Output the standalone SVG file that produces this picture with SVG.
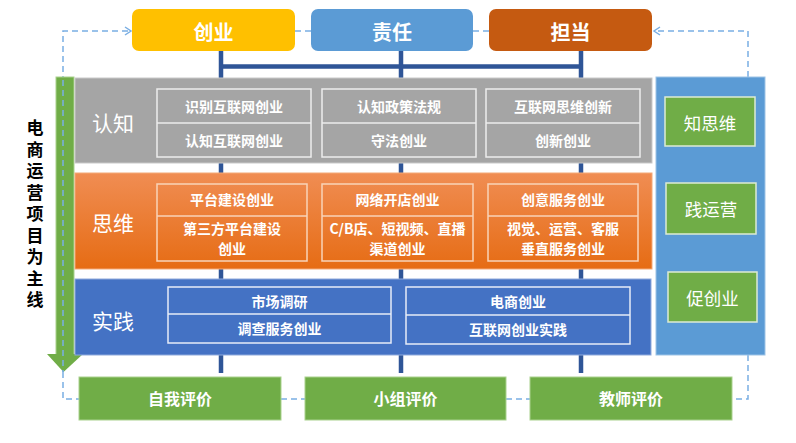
<svg xmlns="http://www.w3.org/2000/svg" width="796" height="443" viewBox="0 0 796 443">
<defs>
<style>
text{font-family:"Noto Sans CJK SC","Noto Sans",sans-serif;fill:#fff;text-anchor:middle;dominant-baseline:central}
.title{font-size:20px;font-weight:bold}
.cell{font-size:14px;font-weight:bold}
.plabel{font-size:21px}
.rlabel{font-size:17.5px}
.blabel{font-size:16px;font-weight:bold}
.vt{font-size:17px;font-weight:bold;fill:#000;writing-mode:vertical-rl;letter-spacing:4.5px}
.dash{fill:none;stroke:#7AAEE3;stroke-width:1.5;stroke-dasharray:6 4}
.cellbox{fill:none;stroke-width:1.5}
.grn{fill:#70AD47}
</style>
<linearGradient id="og" x1="0" y1="0" x2="0" y2="1">
<stop offset="0" stop-color="#F08D53"/>
<stop offset="1" stop-color="#E66C14"/>
</linearGradient>
<marker id="ah" markerWidth="10" markerHeight="10" refX="8" refY="5" orient="auto" markerUnits="userSpaceOnUse">
<path d="M2,1 L8,5 L2,9" fill="none" stroke="#7AAEE3" stroke-width="1.5"/>
</marker>
</defs>

<g id="connectors">
<path class="dash" d="M63,372 V31 H131" marker-end="url(#ah)"/>
<path class="dash" d="M748,77 V31 H654" marker-end="url(#ah)"/>
<path class="dash" d="M63,372 V399 H79"/>
<path class="dash" d="M748,355 V399 H732"/>
<path class="dash" d="M295,31 H311 M473,31 H489"/>
<path class="dash" d="M281,399 H305 M506,399 H530"/>
<g stroke="#2F5597" stroke-width="4.5" fill="none">
<path d="M221,51 V373 M401,51 V373 M581,51 V373"/>
<path d="M221,66.5 H581"/>
</g>
</g>

<g id="top-chuangye">
<rect x="132" y="9" width="163" height="42" rx="7" fill="#FFC000"/>
<text class="title" x="213.5" y="31">创业</text>
</g>
<g id="top-zeren">
<rect x="311" y="9" width="162" height="42" rx="7" fill="#5B9BD5"/>
<text class="title" x="392" y="31">责任</text>
</g>
<g id="top-dandang">
<rect x="489" y="9" width="163" height="42" rx="7" fill="#C55A11"/>
<text class="title" x="570.5" y="31">担当</text>
</g>

<g id="main-line">
<rect x="56" y="77" width="18" height="278" fill="#70AD47" stroke="#A9D18E" stroke-width="1"/>
<path d="M47,354 H83 L63.5,372 Z" fill="#70AD47"/>
<path class="dash" d="M63,80 V372" stroke="#9DC3E6"/>
<text class="vt" x="35" y="216">电商运营项目为主线</text>
</g>

<g id="panel-renzhi">
<rect x="75" y="78" width="577" height="85" fill="#A5A5A5" stroke="#C9C9C9" stroke-width="1"/>
<text class="plabel" x="113" y="122">认知</text>
<g class="cellbox" stroke="#EDEDED">
<rect x="157" y="89" width="154" height="68"/><path d="M157,123 H311"/>
<rect x="322" y="89" width="154" height="68"/><path d="M322,123 H476"/>
<rect x="486" y="89" width="154" height="68"/><path d="M486,123 H640"/>
</g>
<text class="cell" x="234" y="106">识别互联网创业</text>
<text class="cell" x="234" y="140">认知互联网创业</text>
<text class="cell" x="399" y="106">认知政策法规</text>
<text class="cell" x="399" y="140">守法创业</text>
<text class="cell" x="563" y="106">互联网思维创新</text>
<text class="cell" x="563" y="140">创新创业</text>
</g>

<g id="panel-siwei">
<rect x="75" y="173" width="577" height="96" fill="url(#og)" stroke="#F4A979" stroke-width="1"/>
<text class="plabel" x="113" y="222">思维</text>
<g class="cellbox" stroke="#F9D3B8">
<rect x="157" y="184" width="150" height="77"/><path d="M157,216 H307"/>
<rect x="322" y="184" width="151" height="77"/><path d="M322,216 H473"/>
<rect x="488" y="184" width="150" height="77"/><path d="M488,216 H638"/>
</g>
<text class="cell" x="232" y="199">平台建设创业</text>
<text class="cell"><tspan x="232" y="227.5">第三方平台建设</tspan><tspan x="232" y="248">创业</tspan></text>
<text class="cell" x="397.5" y="199">网络开店创业</text>
<text class="cell"><tspan x="397.5" y="227.5">C/B店、短视频、直播</tspan><tspan x="397.5" y="248">渠道创业</tspan></text>
<text class="cell" x="563" y="199">创意服务创业</text>
<text class="cell"><tspan x="563" y="227.5">视觉、运营、客服</tspan><tspan x="563" y="248">垂直服务创业</tspan></text>
</g>

<g id="panel-shijian">
<rect x="75" y="279" width="576" height="76" fill="#4472C4" stroke="#8FAADC" stroke-width="1"/>
<text class="plabel" x="113" y="320">实践</text>
<g class="cellbox" stroke="#E6ECF7">
<rect x="168" y="287" width="223" height="56"/><path d="M168,314 H391"/>
<rect x="406" y="287" width="224" height="57"/><path d="M406,315 H630"/>
</g>
<text class="cell" x="279.5" y="301">市场调研</text>
<text class="cell" x="279.5" y="328">调查服务创业</text>
<text class="cell" x="518" y="301">电商创业</text>
<text class="cell" x="518" y="329">互联网创业实践</text>
</g>

<g id="side-panel">
<rect x="656" y="77" width="109" height="278" fill="#5B9BD5" stroke="#9DC3E6" stroke-width="1"/>
</g>
<g id="side-zhisiwei">
<rect class="grn" x="665" y="97" width="90" height="49" stroke="#DDEBD4" stroke-width="1.5"/>
<text class="rlabel" x="710" y="122">知思维</text>
</g>
<g id="side-jianyunying">
<rect class="grn" x="666" y="183" width="90" height="51" stroke="#DDEBD4" stroke-width="1.5"/>
<text class="rlabel" x="711" y="208">践运营</text>
</g>
<g id="side-cuchuangye">
<rect class="grn" x="668" y="272" width="89" height="50" stroke="#DDEBD4" stroke-width="1.5"/>
<text class="rlabel" x="712.5" y="297">促创业</text>
</g>

<g id="eval-self">
<rect class="grn" x="79" y="377" width="202" height="43" stroke="#A9D18E" stroke-width="1"/>
<text class="blabel" x="180" y="398">自我评价</text>
</g>
<g id="eval-group">
<rect class="grn" x="305" y="377" width="201" height="43" stroke="#A9D18E" stroke-width="1"/>
<text class="blabel" x="405.5" y="398">小组评价</text>
</g>
<g id="eval-teacher">
<rect class="grn" x="530" y="377" width="202" height="43" stroke="#A9D18E" stroke-width="1"/>
<text class="blabel" x="631" y="398">教师评价</text>
</g>
</svg>
